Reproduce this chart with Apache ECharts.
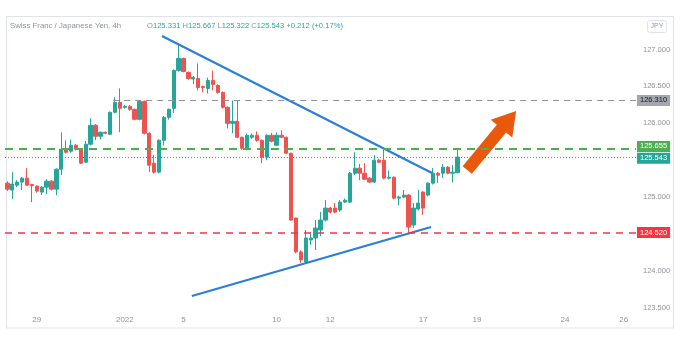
<!DOCTYPE html>
<html>
<head>
<meta charset="utf-8">
<script src="https://cdn.jsdelivr.net/npm/echarts@6/dist/echarts.min.js"></script>
<style>
  html, body { margin: 0; padding: 0; background: #fff; }
  #chart { width: 681px; height: 351px; }
</style>
</head>
<body>
<div id="chart"></div>
<script>
// CHF/JPY 4h candles
const open = [125.189, 125.095, 125.162, 125.203, 125.257, 125.170, 125.149, 125.068, 125.135, 125.216,
  125.108, 125.378, 125.649, 125.622, 125.703, 125.649, 125.473, 125.716, 125.973, 125.824,
  125.878, 125.851, 126.149, 126.284, 126.216, 126.230, 126.189, 126.054, 126.297, 125.865,
  125.459, 125.338, 125.770, 126.081, 126.203, 126.716, 126.878, 126.689, 126.600, 126.608,
  126.500, 126.473, 126.581, 126.513, 126.419, 126.216, 126.000, 126.027, 125.811, 125.662,
  125.811, 125.838, 125.770, 125.541, 125.838, 125.703, 125.838, 125.811, 125.595, 124.716,
  124.257, 124.122, 124.419, 124.446, 124.554, 124.689, 124.851, 124.851, 124.824, 124.932,
  124.932, 125.324, 125.392, 125.324, 125.257, 125.203, 125.500, 125.500, 125.257, 125.270,
  124.986, 125.000, 125.027, 124.622, 124.838, 125.068, 125.027, 125.189, 125.324, 125.324,
  125.405, 125.324, 125.331];
const close = [125.108, 125.176, 125.203, 125.257, 125.162, 125.155, 125.081, 125.135, 125.216, 125.108,
  125.378, 125.649, 125.608, 125.703, 125.649, 125.459, 125.716, 125.973, 125.824, 125.878,
  125.865, 126.149, 126.284, 126.203, 126.230, 126.189, 126.054, 126.297, 125.865, 125.432,
  125.338, 125.770, 126.081, 126.189, 126.716, 126.878, 126.703, 126.608, 126.622, 126.486,
  126.486, 126.581, 126.527, 126.419, 126.216, 126.000, 126.027, 125.811, 125.662, 125.838,
  125.838, 125.770, 125.541, 125.838, 125.757, 125.838, 125.811, 125.595, 124.689, 124.257,
  124.149, 124.446, 124.446, 124.581, 124.689, 124.851, 124.797, 124.797, 124.932, 124.959,
  125.324, 125.392, 125.324, 125.243, 125.203, 125.500, 125.473, 125.257, 125.270, 124.986,
  125.000, 125.027, 124.595, 124.851, 124.919, 124.851, 125.189, 125.324, 125.297, 125.405,
  125.324, 125.338, 125.543];
const low = [125.081, 124.973, 125.135, 125.095, 125.149, 124.932, 125.060, 125.027, 125.040, 125.090,
  125.027, 125.297, 125.590, 125.600, 125.630, 125.446, 125.460, 125.700, 125.770, 125.780,
  125.850, 125.840, 126.135, 125.878, 126.200, 126.170, 126.040, 126.040, 125.850, 125.338,
  125.320, 125.320, 125.700, 126.050, 126.140, 126.700, 126.690, 126.590, 126.530, 126.446,
  126.420, 126.405, 126.446, 126.400, 126.200, 125.930, 125.865, 125.800, 125.640, 125.635,
  125.790, 125.750, 125.459, 125.500, 125.740, 125.690, 125.800, 125.580, 124.680, 124.240,
  124.108, 124.100, 124.350, 124.284, 124.470, 124.670, 124.780, 124.780, 124.800, 124.920,
  124.920, 125.300, 125.230, 125.230, 125.190, 125.190, 125.460, 125.240, 125.240, 124.970,
  124.890, 124.990, 124.527, 124.580, 124.820, 124.760, 125.010, 125.170, 125.190, 125.260,
  125.310, 125.200, 125.322];
const high = [125.216, 125.338, 125.230, 125.270, 125.392, 125.180, 125.160, 125.150, 125.243, 125.230,
  125.390, 125.878, 125.770, 125.780, 125.720, 125.660, 125.760, 126.068, 125.990, 125.890,
  125.890, 126.160, 126.351, 126.473, 126.250, 126.245, 126.200, 126.310, 126.310, 125.880,
  125.570, 125.780, 126.100, 126.200, 126.730, 127.081, 126.890, 126.700, 126.640, 126.811,
  126.510, 126.620, 126.716, 126.530, 126.430, 126.230, 126.310, 126.310, 125.820, 125.860,
  125.860, 125.890, 125.780, 125.850, 125.870, 125.878, 125.905, 125.820, 125.600, 124.720,
  124.280, 124.554, 124.520, 124.689, 124.797, 124.959, 124.870, 124.920, 124.960, 124.980,
  125.340, 125.608, 125.450, 125.460, 125.270, 125.570, 125.520, 125.662, 125.360, 125.280,
  125.020, 125.095, 125.040, 124.920, 125.095, 125.080, 125.200, 125.392, 125.340, 125.446,
  125.420, 125.432, 125.667];

// category slots incl. empty future space on the right
const slotCount = 129;
const xLabels = ['29', '2022', '5', '10', '12', '17', '19', '24', '26'];
const xLabelAt = [6, 24, 36, 55, 66, 85, 96, 114, 126];
const yTicks = ['123.500', '124.000', '125.000', '126.000', '126.500', '127.000'];

// horizontal levels: resistance, breakout, last price, support
const levels = [126.310, 125.655, 125.543, 124.520];
const resistanceFrom = 21.6;

// drawn trendlines and arrow, [x index, price]
const upperTrend = [[31.6, 127.183], [86.8, 125.327]];
const lowerTrend = [[37.7, 123.660], [86.6, 124.595]];
const arrowLine = [[94.0, 125.367, 104.0, 126.167]];

const upColor = '#26a69a';
const downColor = '#ef5350';
const fontName = 'Liberation Sans';

function buildCandles() {
    let out = [];
    for (let i = 0; i < open.length; i++) {
        out.push([open[i], close[i], low[i], high[i]]);
    }
    return out;
}

function levelLabel(bg, txt, dy) {
    return {
        show: true,
        position: 'end',
        distance: 1,
        formatter: txt,
        color: txt === levels[0].toFixed(3) ? '#131722' : '#fff',
        backgroundColor: bg,
        padding: [2, 3, 1, 3],
        fontSize: 7.5,
        fontFamily: fontName,
        offset: [0, dy || 0]
    };
}

function renderArrow(params, api) {
    const a = api.coord([api.value(0), api.value(1)]);
    const b = api.coord([api.value(2), api.value(3)]);
    const dx = b[0] - a[0], dy = b[1] - a[1];
    const len = Math.sqrt(dx * dx + dy * dy);
    const ux = dx / len, uy = dy / len;
    const nx = -uy, ny = ux;
    const shaft = 6, headLen = 23, headHalf = 14;
    const hx = b[0] - ux * headLen, hy = b[1] - uy * headLen;
    const pts = [
        [a[0] + nx * shaft, a[1] + ny * shaft],
        [hx + nx * shaft, hy + ny * shaft],
        [hx + nx * headHalf, hy + ny * headHalf],
        [b[0], b[1]],
        [hx - nx * headHalf, hy - ny * headHalf],
        [hx - nx * shaft, hy - ny * shaft],
        [a[0] - nx * shaft, a[1] - ny * shaft]
    ];
    return { type: 'polygon', shape: { points: pts }, style: { fill: '#e8590c' } };
}

const categories = [];
for (let i = 0; i < slotCount; i++) categories.push(String(i));

const last = open.length - 1;
const chg = close[last] - open[last];
const pct = chg / open[last] * 100;
const ohlcText = '{k|O}{v|' + open[last].toFixed(3) + '} {k|H}{v|' + high[last].toFixed(3) +
    '} {k|L}{v|' + low[last].toFixed(3) + '} {k|C}{v|' + close[last].toFixed(3) +
    '} {v|' + (chg >= 0 ? '+' : '') + chg.toFixed(3) + ' (' + (pct >= 0 ? '+' : '') + pct.toFixed(2) + '%)}';

const chart = echarts.init(document.getElementById('chart'));
chart.setOption({
    animation: false,
    backgroundColor: '#fff',
    grid: { left: 5, right: 45, top: 12.6, bottom: 6.3 },
    xAxis: [{
        type: 'category',
        data: categories,
        boundaryGap: true,
        offset: -31,
        axisLine: { show: false },
        axisTick: { show: false },
        splitLine: { show: false },
        axisLabel: {
            margin: 2,
            color: '#8f929a',
            fontSize: 8,
            fontFamily: fontName,
            interval: function (i) { return xLabelAt.indexOf(i) >= 0; },
            formatter: function (v, i) {
                const k = xLabelAt.indexOf(i);
                return k >= 0 ? xLabels[k] : '';
            }
        }
    }, {
        type: 'value',
        min: -0.5,
        max: slotCount - 0.5,
        show: false
    }],
    yAxis: {
        type: 'value',
        position: 'right',
        min: 123,
        max: 127.5,
        interval: 0.5,
        axisLine: { show: false },
        axisTick: { show: false },
        splitLine: { show: false },
        axisLabel: {
            margin: 7,
            color: '#8f929a',
            fontSize: 7.5,
            fontFamily: fontName,
            formatter: function (v) {
                const s = v.toFixed(3);
                return yTicks.indexOf(s) >= 0 ? s : '';
            }
        }
    },
    graphic: [{
        type: 'rect',
        z: -1,
        shape: { x: 6.5, y: 16.5, width: 667, height: 311.5 },
        style: { fill: 'none', stroke: '#e0e3eb', lineWidth: 1 }
    }, {
        type: 'text',
        left: 10,
        top: 22,
        style: { text: 'Swiss Franc / Japanese Yen, 4h', fill: '#8f929a', fontSize: 7.8, fontFamily: fontName }
    }, {
        type: 'text',
        left: 147,
        top: 22,
        style: {
            text: ohlcText,
            fontSize: 7.6,
            fontFamily: fontName,
            rich: {
                k: { fill: '#8f929a', fontSize: 7.6, fontFamily: fontName },
                v: { fill: upColor, fontSize: 7.6, fontFamily: fontName }
            }
        }
    }, {
        type: 'group',
        left: 647,
        top: 20,
        children: [{
            type: 'rect',
            shape: { x: 0, y: 0, width: 19, height: 12, r: 2 },
            style: { fill: '#fff', stroke: '#e0e3eb' }
        }, {
            type: 'text',
            x: 9.5,
            y: 6,
            style: { text: 'JPY', fill: '#9598a1', fontSize: 7, fontFamily: fontName, align: 'center', verticalAlign: 'middle' }
        }]
    }],
    series: [{
        type: 'candlestick',
        data: buildCandles(),
        barWidth: 3.8,
        itemStyle: {
            color: upColor,
            color0: downColor,
            borderColor: upColor,
            borderColor0: downColor,
            borderWidth: 1
        }
    }, {
        type: 'line',
        xAxisIndex: 1,
        data: upperTrend,
        symbol: 'none',
        lineStyle: { color: '#2a7fd8', width: 2.2 },
        markLine: {
            silent: true,
            symbol: ['none', 'none'],
            data: [
                [{ coord: [resistanceFrom, levels[0]], lineStyle: { color: '#8f929a', type: [6, 5], width: 1.2 }, label: levelLabel('#a3a6af', levels[0].toFixed(3)) },
                 { coord: [slotCount - 0.5, levels[0]] }],
                { yAxis: levels[1], lineStyle: { color: '#4caf50', type: [8, 6], width: 2 }, label: levelLabel('#4caf50', levels[1].toFixed(3), -2) },
                { yAxis: levels[2], lineStyle: { color: upColor, type: [1, 2], width: 1 }, label: levelLabel(upColor, levels[2].toFixed(3), 1) },
                { yAxis: levels[3], lineStyle: { color: '#f23645', type: [7, 6], width: 1.5 }, label: levelLabel('#f23645', levels[3].toFixed(3)) }
            ]
        }
    }, {
        type: 'line',
        xAxisIndex: 1,
        data: lowerTrend,
        symbol: 'none',
        lineStyle: { color: '#2a7fd8', width: 2.2 }
    }, {
        type: 'custom',
        xAxisIndex: 1,
        data: arrowLine,
        renderItem: renderArrow
    }]
});
</script>
</body>
</html>
